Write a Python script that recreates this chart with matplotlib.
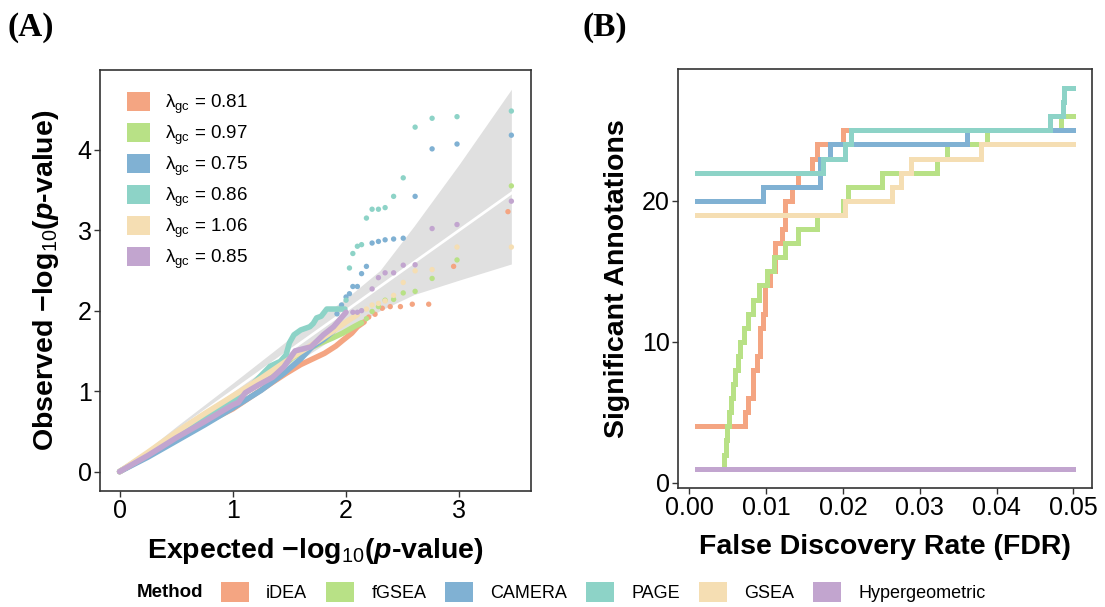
import matplotlib
matplotlib.use("Agg")
import matplotlib.pyplot as plt
from matplotlib.patches import Patch

plt.rcParams["font.family"] = ["Liberation Sans", "DejaVu Sans"]
plt.rcParams["mathtext.fontset"] = "custom"
plt.rcParams["mathtext.rm"] = "Liberation Sans"
plt.rcParams["mathtext.it"] = "Liberation Sans:italic"
plt.rcParams["mathtext.bf"] = "Liberation Sans:bold"
plt.rcParams["mathtext.bfit"] = "Liberation Sans:bold:italic"

# methods, colours, genomic-control lambdas
methods = ["iDEA", "fGSEA", "CAMERA", "PAGE", "GSEA", "Hypergeometric"]
colors = ["#F4A582", "#B8E186", "#80B1D3", "#8DD3C7", "#F5DEB3", "#C2A5CF"]
lambda_gc = ["0.81", "0.97", "0.75", "0.86", "1.06", "0.85"]

# ---- panel A: QQ data (expected, observed -log10 p)
idea_dense_x = [0, 0.25, 0.5, 0.75, 1.0, 1.16, 1.34, 1.47, 1.6, 1.72, 1.81, 1.91, 1.97, 2.05, 2.10, 2.16]
idea_dense_y = [0, 0.20, 0.40, 0.60, 0.78, 0.93, 1.10, 1.22, 1.33, 1.41, 1.47, 1.56, 1.63, 1.72, 1.80, 1.86]
idea_tail_x = [2.20, 2.256, 2.32, 2.39, 2.48, 2.585, 2.73, 2.95, 3.43]
idea_tail_y = [1.92, 1.955, 2.03, 2.05, 2.05, 2.08, 2.08, 2.55, 3.23]

fgsea_dense_x = [0, 0.25, 0.5, 0.75, 1.0, 1.28, 1.41, 1.53, 1.69, 1.78, 1.88, 1.97, 2.07, 2.137]
fgsea_dense_y = [0, 0.22, 0.45, 0.67, 0.88, 1.14, 1.28, 1.42, 1.54, 1.60, 1.66, 1.72, 1.80, 1.85]
fgsea_tail_x = [2.18, 2.23, 2.286, 2.345, 2.42, 2.505, 2.61, 2.76, 2.98, 3.46]
fgsea_tail_y = [1.90, 1.99, 2.05, 2.13, 2.14, 2.22, 2.24, 2.40, 2.63, 3.55]

camera_dense_x = [0, 0.25, 0.5, 0.75, 1.0, 1.25, 1.45, 1.6, 1.7, 1.8, 1.89]
camera_dense_y = [0, 0.18, 0.38, 0.58, 0.79, 1.01, 1.22, 1.40, 1.55, 1.64, 1.75]
camera_tail_x = [1.92, 1.96, 2.0, 2.03, 2.06, 2.10, 2.137, 2.18, 2.23, 2.286, 2.345, 2.42, 2.505, 2.61, 2.76, 2.98, 3.46]
camera_tail_y = [1.96, 2.07, 2.17, 2.21, 2.30, 2.30, 2.46, 2.55, 2.84, 2.86, 2.88, 2.89, 2.90, 3.42, 4.01, 4.07, 4.18]

page_dense_x = [0, 0.25, 0.5, 0.75, 1.0, 1.13, 1.24, 1.33, 1.42, 1.47, 1.50, 1.54, 1.60, 1.68, 1.71, 1.74, 1.78, 1.83, 1.99]
page_dense_y = [0, 0.21, 0.44, 0.66, 0.88, 1.02, 1.18, 1.31, 1.37, 1.45, 1.60, 1.70, 1.76, 1.80, 1.84, 1.91, 1.93, 2.02, 2.02]
page_tail_x = [2.0, 2.03, 2.06, 2.10, 2.137, 2.18, 2.23, 2.286, 2.345, 2.42, 2.505, 2.61, 2.76, 2.98, 3.46]
page_tail_y = [2.13, 2.53, 2.71, 2.80, 2.82, 3.15, 3.26, 3.26, 3.28, 3.42, 3.65, 4.28, 4.39, 4.41, 4.48]

gsea_dense_x = [0, 0.25, 0.5, 0.75, 1.0, 1.25, 1.5, 1.75, 1.9, 2.0, 2.1]
gsea_dense_y = [0, 0.24, 0.49, 0.72, 0.94, 1.16, 1.40, 1.62, 1.76, 1.86, 1.95]
gsea_tail_x = [2.18, 2.23, 2.286, 2.345, 2.42, 2.505, 2.61, 2.76, 2.98, 3.46]
gsea_tail_y = [2.02, 2.07, 2.09, 2.12, 2.19, 2.35, 2.495, 2.51, 2.79, 2.79]

hyper_dense_x = [0, 0.25, 0.5, 0.75, 1.0, 1.05, 1.11, 1.23, 1.35, 1.45, 1.55, 1.69, 1.80, 1.89, 2.0]
hyper_dense_y = [0, 0.20, 0.42, 0.62, 0.83, 0.86, 0.98, 1.08, 1.17, 1.30, 1.50, 1.55, 1.70, 1.80, 1.98]
hyper_tail_x = [2.06, 2.10, 2.137, 2.23, 2.286, 2.345, 2.42, 2.505, 2.61, 2.76, 2.98, 3.46]
hyper_tail_y = [1.98, 1.98, 2.0, 2.27, 2.41, 2.47, 2.47, 2.565, 2.57, 3.02, 3.07, 3.36]

# confidence band and reference line
band_x = [0, 0.5, 1.0, 1.5, 2.0, 2.3, 2.6, 3.0, 3.46]
band_lo = [0, 0.42, 0.85, 1.30, 1.76, 2.00, 2.20, 2.38, 2.58]
band_hi = [0, 0.56, 1.10, 1.65, 2.15, 2.50, 3.05, 3.82, 4.75]
ref_x = [0, 3.46]

# ---- panel B: significant annotations vs FDR threshold (step curves)
idea_fdr = [0.001, 0.00725, 0.00768, 0.00833, 0.00877, 0.00920, 0.00964, 0.00985, 0.01051, 0.01116,
            0.01203, 0.01246, 0.01333, 0.01420, 0.01602, 0.01659, 0.02005, 0.05]
idea_n = [4, 5, 6, 8, 9, 11, 12, 14, 15, 17, 18, 20, 21, 22, 23, 24, 25, 25]
fgsea_fdr = [0.00443, 0.00456, 0.00474, 0.00491, 0.00513, 0.00539, 0.00565, 0.00595, 0.00630, 0.00665,
             0.00716, 0.00768, 0.00833, 0.00908, 0.01008, 0.0110, 0.01246, 0.01419, 0.01667, 0.0200,
             0.0207, 0.0251, 0.0322, 0.0335, 0.0387, 0.0484, 0.05]
fgsea_n = [1, 2, 3, 4, 5, 6, 7, 8, 9, 10, 11, 12, 13, 14, 15, 16, 17, 18, 19, 20, 21, 22, 23, 24, 25, 26, 26]
camera_fdr = [0.001, 0.00964, 0.0170, 0.0183, 0.0362, 0.05]
camera_n = [20, 21, 23, 24, 25, 25]
page_fdr = [0.001, 0.0174, 0.0202, 0.0210, 0.0470, 0.0486, 0.0488, 0.05]
page_n = [22, 23, 24, 25, 26, 27, 28, 28]
gsea_fdr = [0.001, 0.0202, 0.0264, 0.0276, 0.0288, 0.0379, 0.05]
gsea_n = [19, 20, 21, 22, 23, 24, 24]
hyper_fdr = [0.001, 0.05]
hyper_n = [1, 1]

dense = [(idea_dense_x, idea_dense_y), (fgsea_dense_x, fgsea_dense_y), (camera_dense_x, camera_dense_y),
         (page_dense_x, page_dense_y), (gsea_dense_x, gsea_dense_y), (hyper_dense_x, hyper_dense_y)]
tails = [(idea_tail_x, idea_tail_y), (fgsea_tail_x, fgsea_tail_y), (camera_tail_x, camera_tail_y),
         (page_tail_x, page_tail_y), (gsea_tail_x, gsea_tail_y), (hyper_tail_x, hyper_tail_y)]
steps = [(idea_fdr, idea_n), (fgsea_fdr, fgsea_n), (camera_fdr, camera_n),
         (page_fdr, page_n), (gsea_fdr, gsea_n), (hyper_fdr, hyper_n)]

frame_col = "#333333"
tick_size = 18
title_size = 20.5


def style_axes(ax):
    for sp in ax.spines.values():
        sp.set_color(frame_col)
        sp.set_linewidth(1.2)
    ax.tick_params(direction="out", length=4, width=1, color=frame_col,
                   labelsize=tick_size, labelcolor="black", pad=2)


fig = plt.figure(figsize=(11.05, 6.07), dpi=100)

# ---------------- Panel A
axA = fig.add_axes([0.0905, 0.1916, 0.39, 0.6931])
axA.fill_between(band_x, band_lo, band_hi, color="#E0E0E0", lw=0, zorder=1)
axA.plot(ref_x, ref_x, color="white", lw=2.0, zorder=2)
for (dx, dy), (tx, ty), c in zip(dense, tails, colors):
    axA.plot(dx, dy, color=c, lw=4.0, solid_capstyle="round", solid_joinstyle="round", zorder=3)
    axA.scatter(tx, ty, s=15, color=c, edgecolors="none", zorder=3)
axA.set_xlim(-0.173, 3.633)
axA.set_ylim(-0.237, 4.99)
axA.set_xticks([0, 1, 2, 3])
axA.set_yticks([0, 1, 2, 3, 4])
style_axes(axA)
axA.set_xlabel("Expected \u2212log$_{10}$($\\mathbfit{p}$-value)", fontsize=title_size,
               fontweight="bold", labelpad=9)
axA.set_ylabel("Observed \u2212log$_{10}$($\\mathbfit{p}$-value)", fontsize=title_size,
               fontweight="bold", labelpad=12)

handlesA = [Patch(facecolor=c, edgecolor="none") for c in colors]
labelsA = [r"$\mathrm{\lambda}_{\mathrm{gc}}$ = " + v for v in lambda_gc]
axA.legend(handlesA, labelsA, loc="upper left", bbox_to_anchor=(0.062, 0.948),
           frameon=False, fontsize=13.5, handlelength=1.25, handleheight=1.2,
           labelspacing=0.38, handletextpad=0.8, borderpad=0, borderaxespad=0)

# ---------------- Panel B
axB = fig.add_axes([0.6138, 0.1965, 0.3747, 0.6898])
for (fx, ny), c in zip(steps, colors):
    axB.step(fx, ny, where="post", color=c, lw=3.6, solid_joinstyle="miter")
axB.set_xlim(-0.00145, 0.05245)
axB.set_ylim(-0.35, 29.35)
axB.set_xticks([0.00, 0.01, 0.02, 0.03, 0.04, 0.05])
axB.set_xticklabels(["0.00", "0.01", "0.02", "0.03", "0.04", "0.05"])
axB.set_yticks([0, 10, 20])
style_axes(axB)
axB.set_xlabel("False Discovery Rate (FDR)", fontsize=title_size, fontweight="bold", labelpad=10)
axB.set_ylabel("Significant Annotations", fontsize=title_size, fontweight="bold", labelpad=9)

# panel tags
fig.text(0.007, 0.954, "(A)", fontsize=24, fontweight="bold", family="Liberation Serif", va="center")
fig.text(0.527, 0.954, "(B)", fontsize=24, fontweight="bold", family="Liberation Serif", va="center")

# shared bottom legend
fig.text(0.124, 0.0247, "Method", fontsize=13.5, fontweight="bold", va="center")
handlesB = [Patch(facecolor=c, edgecolor="none") for c in colors]
fig.legend(handlesB, methods, loc="center left", bbox_to_anchor=(0.2, 0.0247), ncol=6,
           frameon=False, fontsize=13, handlelength=1.55, handleheight=1.3,
           handletextpad=0.95, columnspacing=1.05, borderpad=0, borderaxespad=0)

fig.savefig("out.png", dpi=100)
